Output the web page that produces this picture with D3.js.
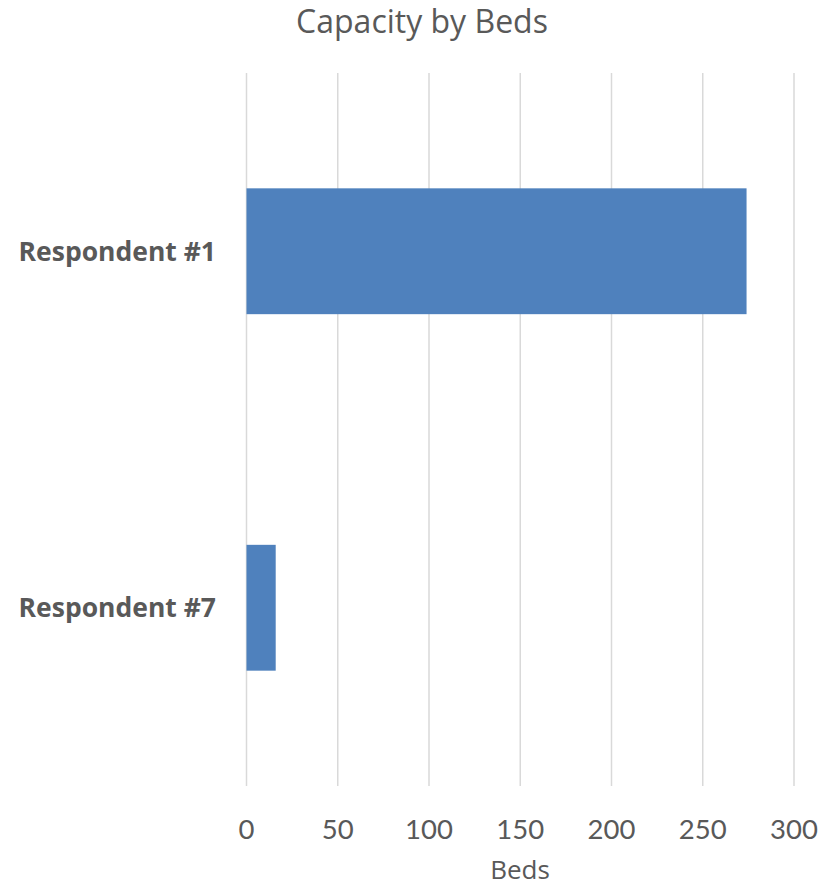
<!DOCTYPE html>
<html><head><meta charset="utf-8">
<script src="https://cdn.jsdelivr.net/npm/d3@7"></script>
<style>body{margin:0;background:#fff}</style>
</head><body>
<script>
const categories = ["Respondent #1", "Respondent #7"];
const values = [274, 16];
const xTicks = [0, 50, 100, 150, 200, 250, 300];
const title = "Capacity by Beds";
const xTitle = "Beds";

const W = 832, H = 887;
const svg = d3.select("body").append("svg").attr("width", W).attr("height", H);
const fontTicks = "Lato, 'Open Sans', sans-serif";
const font = "'Open Sans', sans-serif";
const textColor = "#595959";

const x = d3.scaleLinear().domain([0, 300]).range([246.5, 794]);
const y = d3.scaleBand().domain(categories).range([73, 786]).paddingInner(0.647).paddingOuter(0.3235);

svg.append("g").selectAll("line").data(xTicks).join("line")
  .attr("x1", d => x(d)).attr("x2", d => x(d))
  .attr("y1", 73).attr("y2", 786)
  .attr("stroke", "#d9d9d9").attr("stroke-width", 1.5);

svg.append("g").selectAll("rect").data(values).join("rect")
  .attr("x", x(0)).attr("y", (d, i) => y(categories[i]))
  .attr("width", d => x(d) - x(0)).attr("height", y.bandwidth())
  .attr("fill", "#4f81bd");

svg.append("g").selectAll("text").data(xTicks).join("text")
  .attr("x", d => x(d)).attr("y", 829).attr("dy", "0.35em")
  .attr("text-anchor", "middle").attr("font-family", fontTicks).attr("font-size", 27.5)
  .attr("fill", textColor).text(d => d);

svg.append("g").selectAll("text").data(categories).join("text")
  .attr("x", 216).attr("y", d => y(d) + y.bandwidth() / 2).attr("dy", "0.35em")
  .attr("text-anchor", "end").attr("font-family", font).attr("font-size", 26.5)
  .attr("font-weight", "bold").attr("fill", textColor).text(d => d);

svg.append("text").attr("x", 422).attr("y", 22).attr("dy", "0.35em")
  .attr("text-anchor", "middle").attr("font-family", font).attr("font-size", 32)
  .attr("fill", textColor).text(title);

svg.append("text").attr("x", 520).attr("y", 870).attr("dy", "0.35em")
  .attr("text-anchor", "middle").attr("font-family", font).attr("font-size", 26)
  .attr("fill", textColor).text(xTitle);
</script>
</body></html>
